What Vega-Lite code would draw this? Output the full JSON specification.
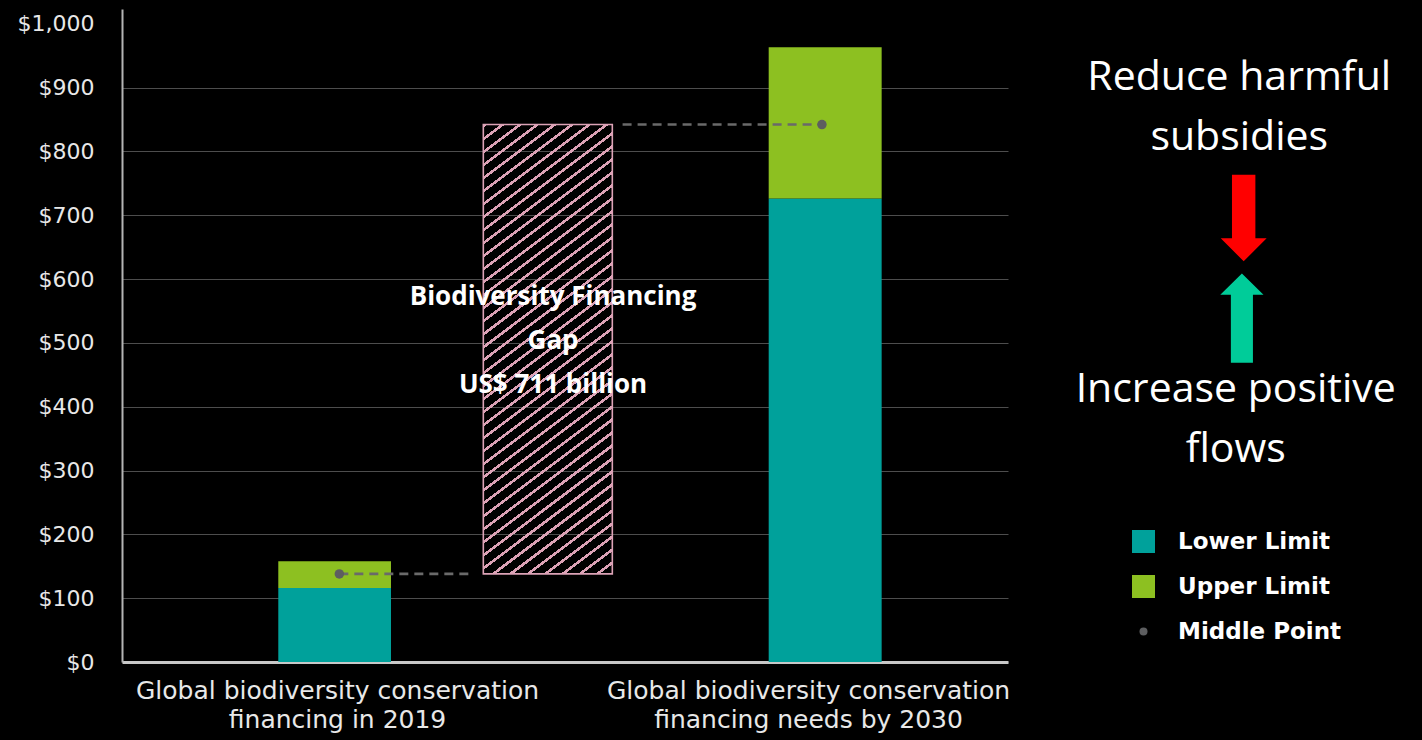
{
  "$schema": "https://vega.github.io/schema/vega-lite/v6.json",
  "width": 886,
  "height": 653,
  "autosize": {"type": "none"},
  "padding": {"left": 122, "top": 9, "right": 414, "bottom": 78},
  "background": "#000000",
  "config": {"view": {"stroke": null}, "font": "DejaVu Sans"},
  "datasets": {
    "bars": [
      {"cat": "2019", "series": "Lower Limit", "x0": 17.64, "x1": 30.36, "y0": 0, "y1": 116},
      {"cat": "2019", "series": "Upper Limit", "x0": 17.64, "x1": 30.36, "y0": 116, "y1": 158},
      {"cat": "2030", "series": "Lower Limit", "x0": 72.99, "x1": 85.74, "y0": 0, "y1": 726},
      {"cat": "2030", "series": "Upper Limit", "x0": 72.99, "x1": 85.74, "y0": 726, "y1": 963}
    ],
    "gap": [{"label": "Biodiversity Financing Gap", "x0": 40.78, "x1": 55.34, "y0": 138, "y1": 842}],
    "mid": [
      {"cat": "2019", "series": "Middle Point", "x": 24.53, "y": 138},
      {"cat": "2030", "series": "Middle Point", "x": 79.0, "y": 842}
    ],
    "links": [
      {"xa": 24.53, "xb": 39.7, "y": 138},
      {"xa": 56.5, "xb": 79.0, "y": 842}
    ]
  },
  "layer": [
    {
      "data": {"name": "bars"},
      "mark": {"type": "rect"},
      "encoding": {
        "x": {
          "field": "x0", "type": "quantitative", "title": null,
          "scale": {"domain": [0, 100], "nice": false, "zero": false},
          "axis": {
            "values": [24.27, 77.43],
            "labelExpr": "datum.value < 50 ? ['Global biodiversity conservation', 'financing in 2019'] : ['Global biodiversity conservation', 'financing needs by 2030']",
            "labelFont": "DejaVu Sans", "labelFontSize": 25, "labelLineHeight": 29,
            "labelColor": "#e8e8e8", "labelBaseline": "top", "labelPadding": 16, "labelLimit": 0,
            "ticks": false, "grid": false, "domainColor": "#c8c8c8", "domainWidth": 3,
            "labelOverlap": false, "labelBound": false, "labelFlush": false
          }
        },
        "x2": {"field": "x1"},
        "y": {
          "field": "y0", "type": "quantitative", "title": null,
          "scale": {"domain": [0, 1023], "nice": false},
          "axis": {
            "values": [0, 100, 200, 300, 400, 500, 600, 700, 800, 900, 1000],
            "format": "$,d",
            "labelFont": "DejaVu Sans", "labelFontSize": 22, "labelColor": "#e8e8e8",
            "ticks": false, "labelPadding": 28,
            "domainColor": "#b4b4b4", "domainWidth": 2,
            "grid": true,
            "gridColor": {"condition": {"test": "datum.value >= 1000", "value": "transparent"}, "value": "#4d4d4d"},
            "gridWidth": 1
          }
        },
        "y2": {"field": "y1"},
        "color": {
          "field": "series", "type": "nominal",
          "scale": {"domain": ["Lower Limit", "Upper Limit", "Middle Point"], "range": ["#00a19b", "#8dc021", "#5d5e60"]},
          "legend": {
            "orient": "none", "legendX": 1010, "legendY": 521, "title": null,
            "labelFont": "DejaVu Sans", "labelFontWeight": "bold", "labelFontSize": 23, "labelColor": "#ffffff",
            "labelLimit": 0,
            "symbolType": "square", "symbolSize": 529, "symbolStrokeWidth": 0,
            "rowPadding": 21, "labelOffset": 23, "padding": 0,
            "encode": {
              "symbols": {
                "update": {
                  "shape": {"signal": "datum.value === 'Middle Point' ? 'circle' : 'square'"},
                  "size": {"signal": "datum.value === 'Middle Point' ? 64 : 529"},
                  "opacity": {"value": 1}
                }
              }
            }
          }
        }
      }
    },
    {
      "data": {"name": "gap"},
      "mark": {
        "type": "rect", "stroke": "#dca2b6", "strokeWidth": 1.6,
        "fill": {
          "gradient": "linear", "x1": 0, "y1": 0, "x2": 0.2501, "y2": 1.1615,
          "stops": [
            {"offset": 0, "color": "#dca2b6"}, {"offset": 0.006, "color": "#dca2b6"}, {"offset": 0.006, "color": "transparent"}, {"offset": 0.0238, "color": "transparent"},
            {"offset": 0.0238, "color": "#dca2b6"}, {"offset": 0.0298, "color": "#dca2b6"}, {"offset": 0.0298, "color": "transparent"}, {"offset": 0.0476, "color": "transparent"},
            {"offset": 0.0476, "color": "#dca2b6"}, {"offset": 0.0536, "color": "#dca2b6"}, {"offset": 0.0536, "color": "transparent"}, {"offset": 0.0714, "color": "transparent"},
            {"offset": 0.0714, "color": "#dca2b6"}, {"offset": 0.0774, "color": "#dca2b6"}, {"offset": 0.0774, "color": "transparent"}, {"offset": 0.0952, "color": "transparent"},
            {"offset": 0.0952, "color": "#dca2b6"}, {"offset": 0.1012, "color": "#dca2b6"}, {"offset": 0.1012, "color": "transparent"}, {"offset": 0.119, "color": "transparent"},
            {"offset": 0.119, "color": "#dca2b6"}, {"offset": 0.125, "color": "#dca2b6"}, {"offset": 0.125, "color": "transparent"}, {"offset": 0.1429, "color": "transparent"},
            {"offset": 0.1429, "color": "#dca2b6"}, {"offset": 0.1489, "color": "#dca2b6"}, {"offset": 0.1489, "color": "transparent"}, {"offset": 0.1667, "color": "transparent"},
            {"offset": 0.1667, "color": "#dca2b6"}, {"offset": 0.1727, "color": "#dca2b6"}, {"offset": 0.1727, "color": "transparent"}, {"offset": 0.1905, "color": "transparent"},
            {"offset": 0.1905, "color": "#dca2b6"}, {"offset": 0.1965, "color": "#dca2b6"}, {"offset": 0.1965, "color": "transparent"}, {"offset": 0.2143, "color": "transparent"},
            {"offset": 0.2143, "color": "#dca2b6"}, {"offset": 0.2203, "color": "#dca2b6"}, {"offset": 0.2203, "color": "transparent"}, {"offset": 0.2381, "color": "transparent"},
            {"offset": 0.2381, "color": "#dca2b6"}, {"offset": 0.2441, "color": "#dca2b6"}, {"offset": 0.2441, "color": "transparent"}, {"offset": 0.2619, "color": "transparent"},
            {"offset": 0.2619, "color": "#dca2b6"}, {"offset": 0.2679, "color": "#dca2b6"}, {"offset": 0.2679, "color": "transparent"}, {"offset": 0.2857, "color": "transparent"},
            {"offset": 0.2857, "color": "#dca2b6"}, {"offset": 0.2917, "color": "#dca2b6"}, {"offset": 0.2917, "color": "transparent"}, {"offset": 0.3095, "color": "transparent"},
            {"offset": 0.3095, "color": "#dca2b6"}, {"offset": 0.3155, "color": "#dca2b6"}, {"offset": 0.3155, "color": "transparent"}, {"offset": 0.3333, "color": "transparent"},
            {"offset": 0.3333, "color": "#dca2b6"}, {"offset": 0.3393, "color": "#dca2b6"}, {"offset": 0.3393, "color": "transparent"}, {"offset": 0.3571, "color": "transparent"},
            {"offset": 0.3571, "color": "#dca2b6"}, {"offset": 0.3631, "color": "#dca2b6"}, {"offset": 0.3631, "color": "transparent"}, {"offset": 0.381, "color": "transparent"},
            {"offset": 0.381, "color": "#dca2b6"}, {"offset": 0.387, "color": "#dca2b6"}, {"offset": 0.387, "color": "transparent"}, {"offset": 0.4048, "color": "transparent"},
            {"offset": 0.4048, "color": "#dca2b6"}, {"offset": 0.4108, "color": "#dca2b6"}, {"offset": 0.4108, "color": "transparent"}, {"offset": 0.4286, "color": "transparent"},
            {"offset": 0.4286, "color": "#dca2b6"}, {"offset": 0.4346, "color": "#dca2b6"}, {"offset": 0.4346, "color": "transparent"}, {"offset": 0.4524, "color": "transparent"},
            {"offset": 0.4524, "color": "#dca2b6"}, {"offset": 0.4584, "color": "#dca2b6"}, {"offset": 0.4584, "color": "transparent"}, {"offset": 0.4762, "color": "transparent"},
            {"offset": 0.4762, "color": "#dca2b6"}, {"offset": 0.4822, "color": "#dca2b6"}, {"offset": 0.4822, "color": "transparent"}, {"offset": 0.5, "color": "transparent"},
            {"offset": 0.5, "color": "#dca2b6"}, {"offset": 0.506, "color": "#dca2b6"}, {"offset": 0.506, "color": "transparent"}, {"offset": 0.5238, "color": "transparent"},
            {"offset": 0.5238, "color": "#dca2b6"}, {"offset": 0.5298, "color": "#dca2b6"}, {"offset": 0.5298, "color": "transparent"}, {"offset": 0.5476, "color": "transparent"},
            {"offset": 0.5476, "color": "#dca2b6"}, {"offset": 0.5536, "color": "#dca2b6"}, {"offset": 0.5536, "color": "transparent"}, {"offset": 0.5714, "color": "transparent"},
            {"offset": 0.5714, "color": "#dca2b6"}, {"offset": 0.5774, "color": "#dca2b6"}, {"offset": 0.5774, "color": "transparent"}, {"offset": 0.5952, "color": "transparent"},
            {"offset": 0.5952, "color": "#dca2b6"}, {"offset": 0.6012, "color": "#dca2b6"}, {"offset": 0.6012, "color": "transparent"}, {"offset": 0.619, "color": "transparent"},
            {"offset": 0.619, "color": "#dca2b6"}, {"offset": 0.625, "color": "#dca2b6"}, {"offset": 0.625, "color": "transparent"}, {"offset": 0.6429, "color": "transparent"},
            {"offset": 0.6429, "color": "#dca2b6"}, {"offset": 0.6489, "color": "#dca2b6"}, {"offset": 0.6489, "color": "transparent"}, {"offset": 0.6667, "color": "transparent"},
            {"offset": 0.6667, "color": "#dca2b6"}, {"offset": 0.6727, "color": "#dca2b6"}, {"offset": 0.6727, "color": "transparent"}, {"offset": 0.6905, "color": "transparent"},
            {"offset": 0.6905, "color": "#dca2b6"}, {"offset": 0.6965, "color": "#dca2b6"}, {"offset": 0.6965, "color": "transparent"}, {"offset": 0.7143, "color": "transparent"},
            {"offset": 0.7143, "color": "#dca2b6"}, {"offset": 0.7203, "color": "#dca2b6"}, {"offset": 0.7203, "color": "transparent"}, {"offset": 0.7381, "color": "transparent"},
            {"offset": 0.7381, "color": "#dca2b6"}, {"offset": 0.7441, "color": "#dca2b6"}, {"offset": 0.7441, "color": "transparent"}, {"offset": 0.7619, "color": "transparent"},
            {"offset": 0.7619, "color": "#dca2b6"}, {"offset": 0.7679, "color": "#dca2b6"}, {"offset": 0.7679, "color": "transparent"}, {"offset": 0.7857, "color": "transparent"},
            {"offset": 0.7857, "color": "#dca2b6"}, {"offset": 0.7917, "color": "#dca2b6"}, {"offset": 0.7917, "color": "transparent"}, {"offset": 0.8095, "color": "transparent"},
            {"offset": 0.8095, "color": "#dca2b6"}, {"offset": 0.8155, "color": "#dca2b6"}, {"offset": 0.8155, "color": "transparent"}, {"offset": 0.8333, "color": "transparent"},
            {"offset": 0.8333, "color": "#dca2b6"}, {"offset": 0.8393, "color": "#dca2b6"}, {"offset": 0.8393, "color": "transparent"}, {"offset": 0.8571, "color": "transparent"},
            {"offset": 0.8571, "color": "#dca2b6"}, {"offset": 0.8631, "color": "#dca2b6"}, {"offset": 0.8631, "color": "transparent"}, {"offset": 0.881, "color": "transparent"},
            {"offset": 0.881, "color": "#dca2b6"}, {"offset": 0.887, "color": "#dca2b6"}, {"offset": 0.887, "color": "transparent"}, {"offset": 0.9048, "color": "transparent"},
            {"offset": 0.9048, "color": "#dca2b6"}, {"offset": 0.9108, "color": "#dca2b6"}, {"offset": 0.9108, "color": "transparent"}, {"offset": 0.9286, "color": "transparent"},
            {"offset": 0.9286, "color": "#dca2b6"}, {"offset": 0.9346, "color": "#dca2b6"}, {"offset": 0.9346, "color": "transparent"}, {"offset": 0.9524, "color": "transparent"},
            {"offset": 0.9524, "color": "#dca2b6"}, {"offset": 0.9584, "color": "#dca2b6"}, {"offset": 0.9584, "color": "transparent"}, {"offset": 0.9762, "color": "transparent"},
            {"offset": 0.9762, "color": "#dca2b6"}, {"offset": 0.9822, "color": "#dca2b6"}, {"offset": 0.9822, "color": "transparent"}, {"offset": 1, "color": "transparent"}
          ]
        }
      },
      "encoding": {
        "x": {"field": "x0", "type": "quantitative", "title": null},
        "x2": {"field": "x1"},
        "y": {"field": "y0", "type": "quantitative", "title": null},
        "y2": {"field": "y1"}
      }
    },
    {
      "data": {"name": "links"},
      "mark": {"type": "rule", "strokeDash": [9, 6], "strokeWidth": 2.6, "color": "#6a6a6a"},
      "encoding": {
        "x": {"field": "xa", "type": "quantitative", "title": null},
        "x2": {"field": "xb"},
        "y": {"field": "y", "type": "quantitative", "title": null}
      }
    },
    {
      "data": {"name": "mid"},
      "mark": {"type": "point", "filled": true, "size": 90, "opacity": 1, "strokeWidth": 0},
      "encoding": {
        "x": {"field": "x", "type": "quantitative", "title": null},
        "y": {"field": "y", "type": "quantitative", "title": null},
        "color": {"field": "series", "type": "nominal"}
      }
    },
    {
      "data": {"values": [{}]},
      "mark": {
        "type": "text", "font": "Open Sans", "fontWeight": "bold", "fontSize": 26,
        "color": "#ffffff", "align": "center", "baseline": "middle", "lineHeight": 44,
        "text": ["Biodiversity Financing", "Gap", "US$ 711 billion"]
      },
      "encoding": {
        "x": {"datum": 48.65, "type": "quantitative", "title": null},
        "y": {"datum": 572, "type": "quantitative", "title": null}
      }
    },
    {
      "data": {"values": [{}]},
      "mark": {
        "type": "text", "font": "Open Sans", "fontSize": 41, "color": "#ffffff",
        "align": "center", "baseline": "middle", "lineHeight": 60,
        "text": ["Reduce harmful", "subsidies"]
      },
      "encoding": {
        "x": {"datum": 126.1, "type": "quantitative", "title": null},
        "y": {"datum": 915, "type": "quantitative", "title": null}
      }
    },
    {
      "data": {"values": [{}]},
      "mark": {
        "type": "text", "font": "Open Sans", "fontSize": 41, "color": "#ffffff",
        "align": "center", "baseline": "middle", "lineHeight": 60,
        "text": ["Increase positive", "flows"]
      },
      "encoding": {
        "x": {"datum": 125.7, "type": "quantitative", "title": null},
        "y": {"datum": 426, "type": "quantitative", "title": null}
      }
    },
    {
      "data": {"values": [{}]},
      "mark": {
        "type": "point", "filled": true, "opacity": 1, "strokeWidth": 0, "size": 8100, "color": "#ff0000",
        "shape": "M-0.26,-0.96 L0.26,-0.96 L0.26,0.45 L0.51,0.45 L0,0.96 L-0.51,0.45 L-0.26,0.45 Z"
      },
      "encoding": {
        "x": {"datum": 126.6, "type": "quantitative", "title": null},
        "y": {"datum": 695.5, "type": "quantitative", "title": null}
      }
    },
    {
      "data": {"values": [{}]},
      "mark": {
        "type": "point", "filled": true, "opacity": 1, "strokeWidth": 0, "size": 8100, "color": "#00cc99",
        "shape": "M0,-0.99 L0.48,-0.52 L0.245,-0.52 L0.245,0.99 L-0.245,0.99 L-0.245,-0.52 L-0.48,-0.52 Z"
      },
      "encoding": {
        "x": {"datum": 126.4, "type": "quantitative", "title": null},
        "y": {"datum": 538.7, "type": "quantitative", "title": null}
      }
    }
  ]
}
